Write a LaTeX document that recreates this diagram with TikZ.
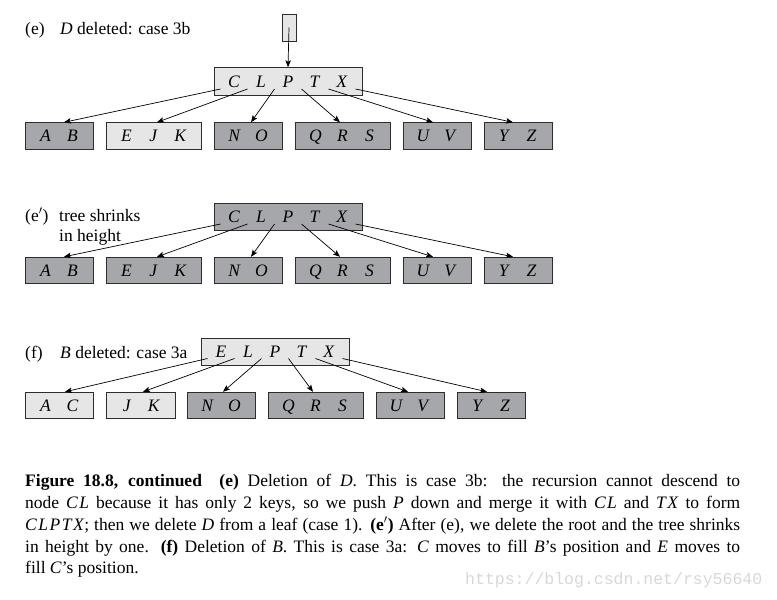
\documentclass[tikz,border=0pt]{standalone}
\usepackage{fontspec}
\setmainfont{Liberation Serif}
\setmonofont{Liberation Mono}
\usetikzlibrary{arrows.meta}
\definecolor{lightfill}{RGB}{230,230,230}
\definecolor{darkfill}{RGB}{166,167,171}
\definecolor{edgecol}{RGB}{45,45,45}
\definecolor{wmcol}{RGB}{215,215,215}
\newcommand\ks[1]{\makebox[27pt]{\textit{#1}}}
\newcommand\lw[1]{\makebox[715pt][s]{#1}}
\begin{document}
\begin{tikzpicture}[x=1pt,y=-1pt,
  every node/.style={font=\fontsize{17.5}{21}\selectfont, inner sep=0pt},
  keybox/.style={draw=edgecol, line width=0.9pt, text height=11.5pt, text depth=0pt},
  lightbox/.style={keybox, fill=lightfill},
  darkbox/.style={keybox, fill=darkfill},
  rootw/.style={minimum width=148pt, minimum height=27.5pt},
  leafh/.style={minimum height=26.5pt},
  w2/.style={leafh, minimum width=68pt},
  w3/.style={leafh, minimum width=95pt},
  ptr/.style={line width=0.7pt, draw=black, -{Stealth[length=7pt,width=5.5pt,inset=1.5pt]}},
  lbl/.style={anchor=base west},
  capline/.style={anchor=base west},
]
\useasboundingbox (0,0) rectangle (777,600);

% ---------- (e) ----------
\node[lbl] (lbe) at (25,34) {\makebox[35pt][l]{(e)}\textit{D} deleted: case 3b};
\node[lightbox, minimum width=14pt, minimum height=27pt] (top) at (289,27.5) {};
\node[lightbox, rootw] (r1) at (288,81.5) {\ks{C}\ks{L}\ks{P}\ks{T}\ks{X}};
\node[darkbox, w2]  (e1) at (59,136)    {\ks{A}\ks{B}};
\node[lightbox, w3] (e2) at (153.5,136) {\ks{E}\ks{J}\ks{K}};
\node[darkbox, w2]  (e3) at (248,136)   {\ks{N}\ks{O}};
\node[darkbox, w3]  (e4) at (342.5,136) {\ks{Q}\ks{R}\ks{S}};
\node[darkbox, w2]  (e5) at (437,136)   {\ks{U}\ks{V}};
\node[darkbox, w2]  (e6) at (518,136)   {\ks{Y}\ks{Z}};
\draw[ptr] (top.center) -- (r1.north);
\draw[ptr] ([xshift=-67.5pt,yshift=-7.5pt]r1.center) -- ([xshift=5pt]e1.north);
\draw[ptr] ([xshift=-40.5pt,yshift=-7.5pt]r1.center) -- ([xshift=3.5pt]e2.north);
\draw[ptr] ([xshift=-13.5pt,yshift=-7.5pt]r1.center) -- ([xshift=3pt]e3.north);
\draw[ptr] ([xshift=13.5pt,yshift=-7.5pt]r1.center) -- ([xshift=-2.5pt]e4.north);
\draw[ptr] ([xshift=40.5pt,yshift=-7.5pt]r1.center) -- ([xshift=-4pt]e5.north);
\draw[ptr] ([xshift=67.5pt,yshift=-7.5pt]r1.center) -- ([xshift=-5pt]e6.north);

% ---------- (e') ----------
\node[lbl] (lbe2a) at (25,221) {\makebox[34pt][l]{(e$'$)}tree shrinks};
\node[lbl] (lbe2b) at (59,241) {in height};
\node[darkbox, rootw] (r2) at (288,217) {\ks{C}\ks{L}\ks{P}\ks{T}\ks{X}};
\node[darkbox, w2] (g1) at (59,270.5)    {\ks{A}\ks{B}};
\node[darkbox, w3] (g2) at (153.5,270.5) {\ks{E}\ks{J}\ks{K}};
\node[darkbox, w2] (g3) at (248,270.5)   {\ks{N}\ks{O}};
\node[darkbox, w3] (g4) at (342.5,270.5) {\ks{Q}\ks{R}\ks{S}};
\node[darkbox, w2] (g5) at (437,270.5)   {\ks{U}\ks{V}};
\node[darkbox, w2] (g6) at (518,270.5)   {\ks{Y}\ks{Z}};
\draw[ptr] ([xshift=-67.5pt,yshift=-7pt]r2.center) -- ([xshift=5pt]g1.north);
\draw[ptr] ([xshift=-40.5pt,yshift=-7pt]r2.center) -- ([xshift=3.5pt]g2.north);
\draw[ptr] ([xshift=-13.5pt,yshift=-7pt]r2.center) -- ([xshift=3pt]g3.north);
\draw[ptr] ([xshift=13.5pt,yshift=-7pt]r2.center) -- ([xshift=-2.5pt]g4.north);
\draw[ptr] ([xshift=40.5pt,yshift=-7pt]r2.center) -- ([xshift=-4pt]g5.north);
\draw[ptr] ([xshift=67.5pt,yshift=-7pt]r2.center) -- ([xshift=-5pt]g6.north);

% ---------- (f) ----------
\node[lbl] (lbf) at (25,358) {\makebox[35pt][l]{(f)}\textit{B} deleted: case 3a};
\node[lightbox, rootw] (r3) at (275,352) {\ks{E}\ks{L}\ks{P}\ks{T}\ks{X}};
\node[lightbox, w2] (f1) at (59,405.5)    {\ks{A}\ks{C}};
\node[lightbox, leafh, minimum width=69pt] (f2) at (140.5,405.5) {\ks{J}\ks{K}};
\node[darkbox, w2] (f3) at (221,405.5)    {\ks{N}\ks{O}};
\node[darkbox, w3] (f4) at (315.5,405.5)  {\ks{Q}\ks{R}\ks{S}};
\node[darkbox, w2] (f5) at (410,405.5)    {\ks{U}\ks{V}};
\node[darkbox, w2] (f6) at (491.5,405.5)  {\ks{Y}\ks{Z}};
\draw[ptr] ([xshift=-67.5pt,yshift=-6.5pt]r3.center) -- ([xshift=6pt]f1.north);
\draw[ptr] ([xshift=-40.5pt,yshift=-6.5pt]r3.center) -- ([xshift=2.5pt]f2.north);
\draw[ptr] ([xshift=-13.5pt,yshift=-6.5pt]r3.center) -- ([xshift=2pt]f3.north);
\draw[ptr] ([xshift=13.5pt,yshift=-6.5pt]r3.center) -- ([xshift=-2.5pt]f4.north);
\draw[ptr] ([xshift=40.5pt,yshift=-6.5pt]r3.center) -- ([xshift=-2pt]f5.north);
\draw[ptr] ([xshift=67.5pt,yshift=-6.5pt]r3.center) -- ([xshift=-4.5pt]f6.north);

% ---------- caption ----------
\node[capline] (c1) at (25,486) {\lw{\textbf{Figure 18.8, continued}\quad \textbf{(e)} Deletion of \textit{D}. This is case 3b: the recursion cannot descend to}};
\node[capline] (c2) at (25,508) {\lw{node \textit{C\kern1.5pt L} because it has only 2 keys, so we push \textit{P} down and merge it with \textit{C\kern1.5pt L} and \textit{T\kern1.5pt X} to form}};
\node[capline] (c3) at (25,530) {\lw{\textit{C\kern1.5pt L\kern1.5pt P\kern1.5pt T\kern1.5pt X}; then we delete \textit{D} from a leaf (case 1). \textbf{(e$'$)} After (e), we delete the root and the tree shrinks}};
\node[capline] (c4) at (25,552) {\lw{in height by one. \textbf{(f)} Deletion of \textit{B}. This is case 3a: \textit{C} moves to fill \textit{B}'s position and \textit{E} moves to}};
\node[capline] (c5) at (25,573.5) {fill \textit{C}'s position.};
\node[anchor=base west, font=\fontsize{16.5}{18}\ttfamily, text=wmcol] (wm) at (465,584) {https://blog.csdn.net/rsy56640};
\end{tikzpicture}
\end{document}
